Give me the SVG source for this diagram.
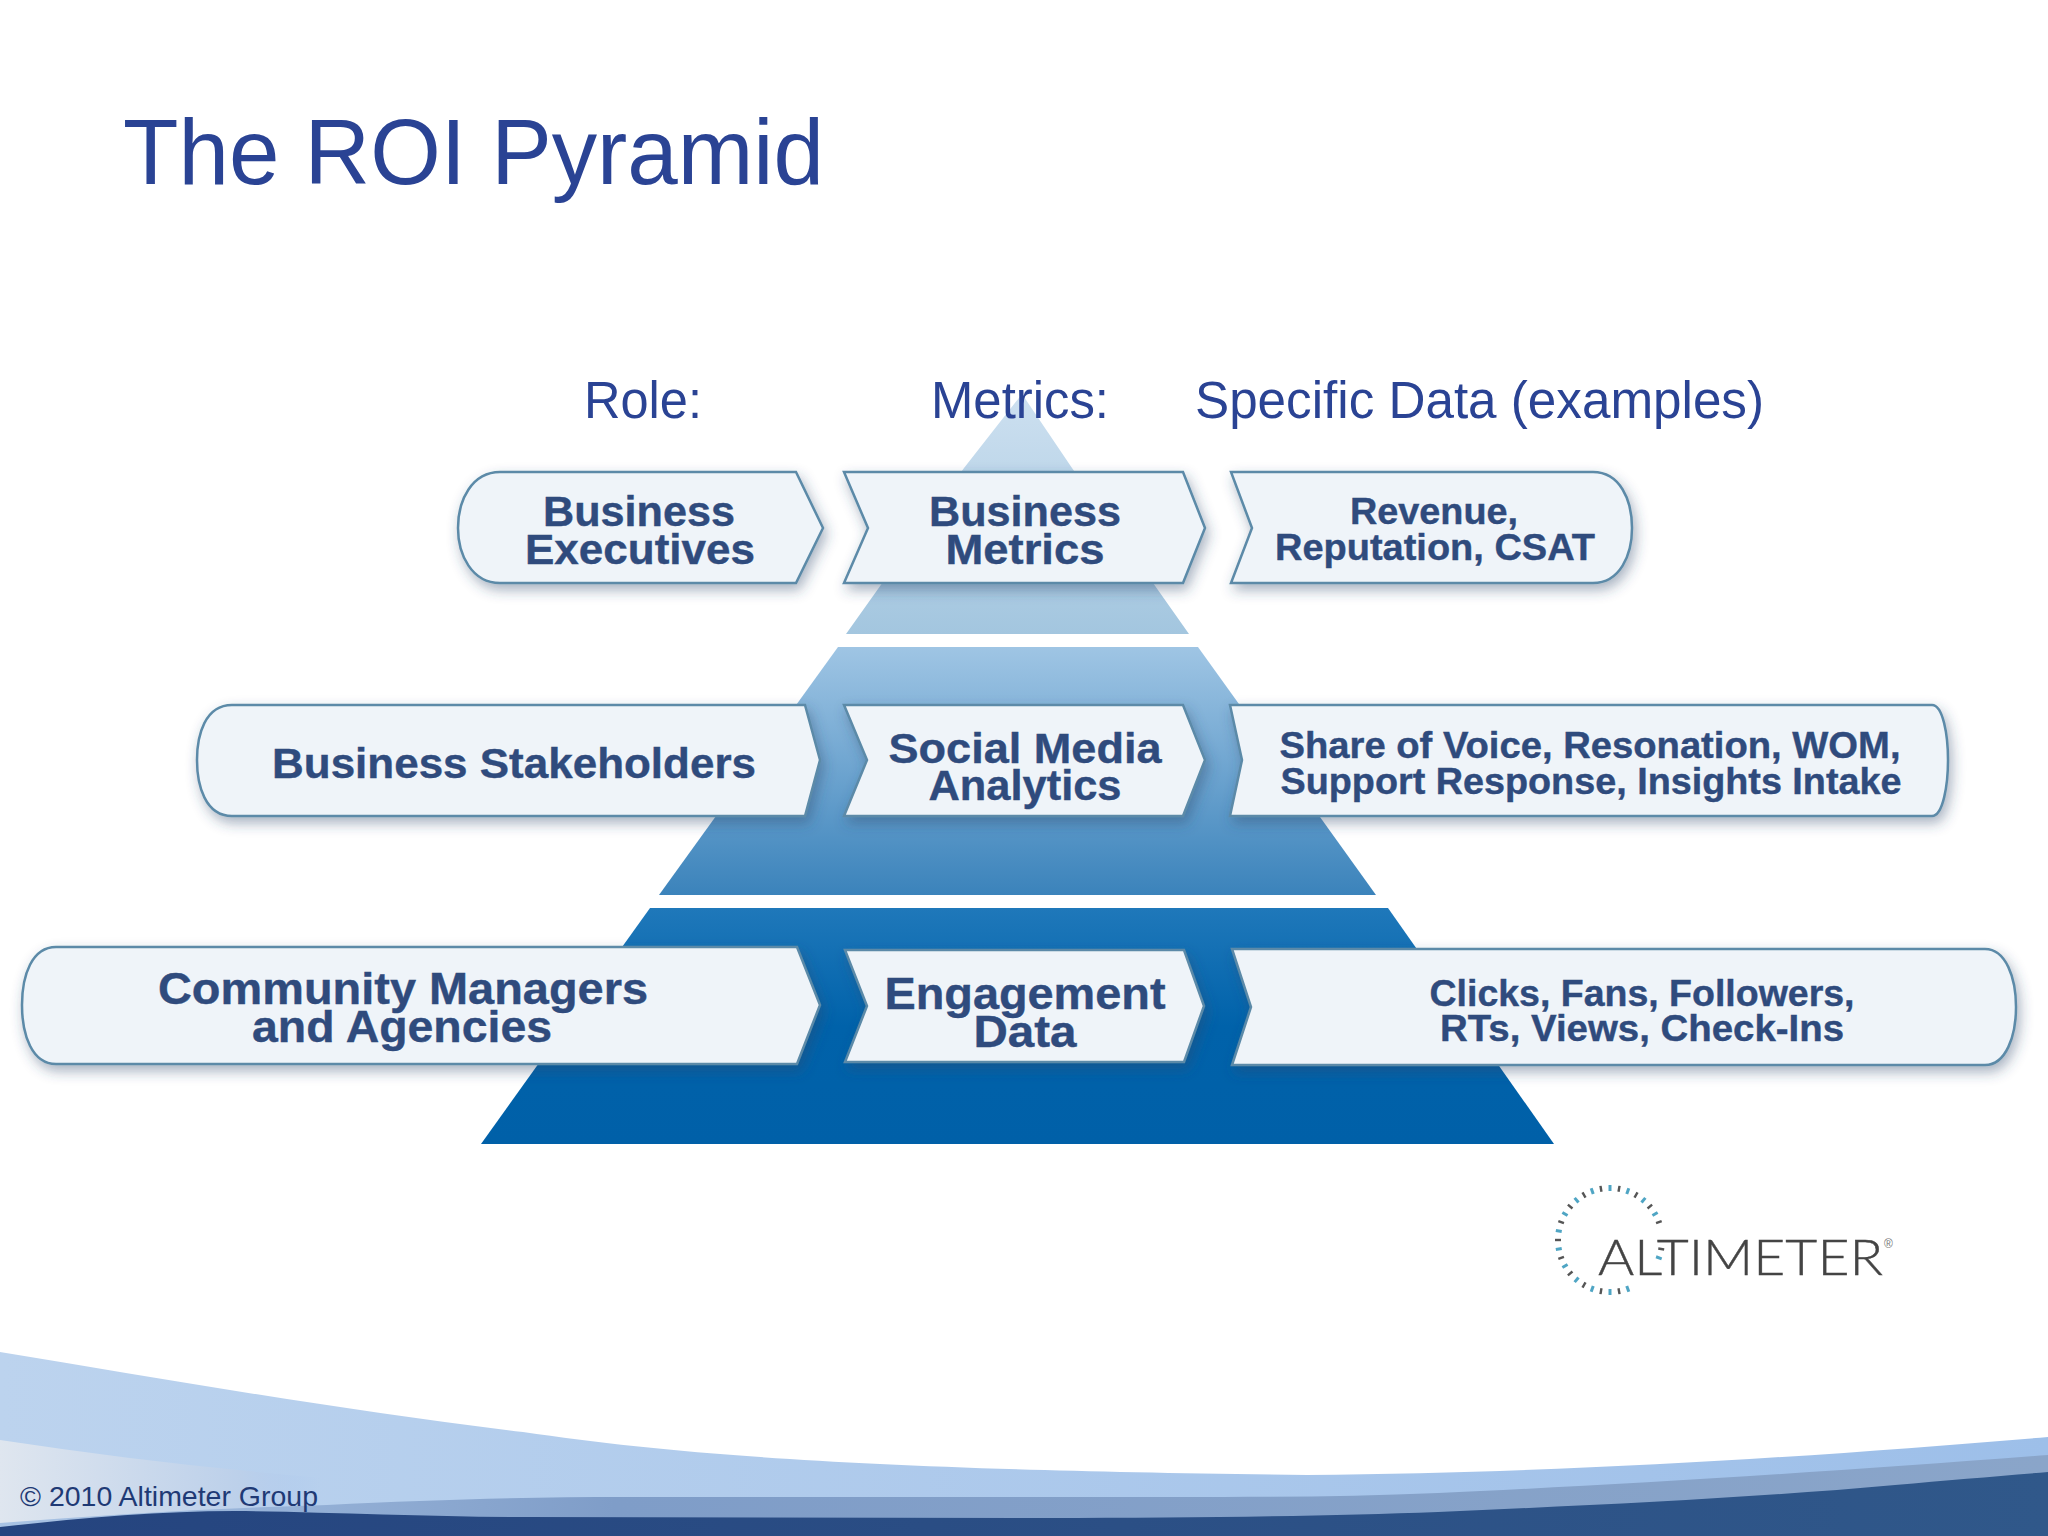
<svg xmlns="http://www.w3.org/2000/svg" xmlns:xlink="http://www.w3.org/1999/xlink" width="2048" height="1536" viewBox="0 0 2048 1536">
<style>
text{font-family:"Liberation Sans",Arial,sans-serif}
.h{fill:#2a4394}
.lab{font-weight:700;fill:#2f4b7d;text-anchor:middle;stroke:#2f4b7d;stroke-width:.4}
.chev{fill:#eff4f9;stroke:#5b8aa8;stroke-width:2.5;filter:url(#sh)}
.tk1{stroke:#4fa5c4;stroke-width:3}
.tk2{stroke:#555;stroke-width:2.4}
</style>
<defs>
<filter id="sh" x="-10%" y="-25%" width="120%" height="160%"><feDropShadow dx="3" dy="6" stdDeviation="6.5" flood-color="#2b4a6a" flood-opacity=".42"/></filter>
<linearGradient id="t1" x1="0" y1="0" x2="0" y2="1"><stop offset="0" stop-color="#cde0f0"/><stop offset="1" stop-color="#a3c6df"/></linearGradient>
<linearGradient id="t2" x1="0" y1="0" x2="0" y2="1"><stop offset="0" stop-color="#9fc5e4"/><stop offset="1" stop-color="#3b83bb"/></linearGradient>
<linearGradient id="t3" x1="0" y1="0" x2="0" y2="1"><stop offset="0" stop-color="#1f78ba"/><stop offset=".5" stop-color="#0062aa"/><stop offset="1" stop-color="#0060a8"/></linearGradient>
<linearGradient id="w1" x1="0" y1="0" x2="1" y2="0"><stop offset="0" stop-color="#bcd3ee"/><stop offset="1" stop-color="#9dbfe9"/></linearGradient>
<linearGradient id="w2" x1="0" y1="0" x2="1" y2="0"><stop offset="0" stop-color="#dfe6ef"/><stop offset=".3" stop-color="#bcd0ea"/><stop offset=".4" stop-color="#adc9ee" stop-opacity="0"/></linearGradient>
<linearGradient id="w3" x1="0" y1="0" x2="1" y2="0"><stop offset="0" stop-color="#a9c3e4"/><stop offset=".3" stop-color="#7f9dc8"/><stop offset="1" stop-color="#8aa5c9"/></linearGradient>
<linearGradient id="w4" x1="0" y1="0" x2="1" y2="0"><stop offset="0" stop-color="#25447f"/><stop offset="1" stop-color="#30588a"/></linearGradient>
</defs>

<g id="swoosh">
<path d="M0 1352C170 1380 340 1410 523 1432C700 1458 900 1470 1307 1475C1600 1472 1830 1455 2048 1437V1536H0Z" fill="url(#w1)"/>
<path d="M0 1440C130 1460 260 1474 392 1483C500 1490 600 1495 800 1497V1536H0Z" fill="url(#w2)"/>
<path d="M0 1523C110 1514 220 1508 327 1505C430 1500 520 1497 627 1497L1176 1497C1260 1497 1350 1497 1438 1493C1600 1486 1830 1472 2048 1455V1536H0Z" fill="url(#w3)"/>
<path d="M0 1527C80 1518 160 1511 235 1511C330 1512 430 1517 523 1517L1046 1518C1200 1518 1330 1516 1438 1512C1600 1505 1750 1498 1895 1485C1950 1480 2000 1476 2048 1472V1536H0Z" fill="url(#w4)"/>
</g>

<g id="pyramid">
<polygon points="1022,394 1072,468 1189,634 846,634 964,468" fill="url(#t1)"/>
<polygon points="838,647 1198,647 1376,895 659,895" fill="url(#t2)"/>
<polygon points="650,908 1388,908 1554,1144 481,1144" fill="url(#t3)"/>
</g>

<text id="title" class="h" x="123" y="184" font-size="92" textLength="701" lengthAdjust="spacingAndGlyphs">The ROI Pyramid</text>
<text id="head-role" class="h" x="584" y="418" font-size="51" textLength="118" lengthAdjust="spacingAndGlyphs">Role:</text>
<text id="head-metrics" class="h" x="931" y="418" font-size="51" textLength="178" lengthAdjust="spacingAndGlyphs">Metrics:</text>
<text id="head-data" class="h" x="1195" y="418" font-size="51" textLength="569" lengthAdjust="spacingAndGlyphs">Specific Data (examples)</text>

<g id="role-executives">
<path class="chev" d="M796 472L823 528L796 583H500C472 583 458 555 458 528C458 500 472 472 500 472Z"/>
<text class="lab" x="639" y="526" font-size="43" textLength="192" lengthAdjust="spacingAndGlyphs">Business</text>
<text class="lab" x="640" y="564" font-size="43" textLength="230" lengthAdjust="spacingAndGlyphs">Executives</text>
</g>
<g id="metric-business">
<path class="chev" d="M844 472H1183L1205 528L1183 583H844L868 528Z"/>
<text class="lab" x="1025" y="526" font-size="43" textLength="192" lengthAdjust="spacingAndGlyphs">Business</text>
<text class="lab" x="1025" y="564" font-size="43" textLength="159" lengthAdjust="spacingAndGlyphs">Metrics</text>
</g>
<g id="data-revenue">
<path class="chev" d="M1231 472H1593C1620 472 1632 500 1632 528C1632 555 1620 583 1593 583H1231L1252 528Z"/>
<text class="lab" x="1434" y="524" font-size="37" textLength="168" lengthAdjust="spacingAndGlyphs">Revenue,</text>
<text class="lab" x="1435" y="560" font-size="37" textLength="320" lengthAdjust="spacingAndGlyphs">Reputation, CSAT</text>
</g>

<g id="role-stakeholders">
<path class="chev" d="M805 705L820 760L805 816H232C205 816 197 785 197 760C197 735 205 705 232 705Z"/>
<text class="lab" x="514" y="778" font-size="43" textLength="484" lengthAdjust="spacingAndGlyphs">Business Stakeholders</text>
</g>
<g id="metric-social">
<path class="chev" d="M844 705H1183L1205 760L1183 816H844L867 760Z"/>
<text class="lab" x="1025" y="763" font-size="43" textLength="273" lengthAdjust="spacingAndGlyphs">Social Media</text>
<text class="lab" x="1025" y="800" font-size="43" textLength="193" lengthAdjust="spacingAndGlyphs">Analytics</text>
</g>
<g id="data-share">
<path class="chev" d="M1230 705H1932C1943 705 1948 735 1948 760C1948 785 1943 816 1932 816H1230L1242 760Z"/>
<text class="lab" x="1590" y="758" font-size="37" textLength="621" lengthAdjust="spacingAndGlyphs">Share of Voice, Resonation, WOM,</text>
<text class="lab" x="1591" y="794" font-size="37" textLength="621" lengthAdjust="spacingAndGlyphs">Support Response, Insights Intake</text>
</g>

<g id="role-community">
<path class="chev" d="M797 947L820 1005L797 1064H56C32 1064 22 1035 22 1005C22 975 32 947 56 947Z"/>
<text class="lab" x="403" y="1004" font-size="45" textLength="490" lengthAdjust="spacingAndGlyphs">Community Managers</text>
<text class="lab" x="402" y="1042" font-size="45" textLength="300" lengthAdjust="spacingAndGlyphs">and Agencies</text>
</g>
<g id="metric-engagement">
<path class="chev" d="M845 950H1184L1204 1006L1184 1062H845L867 1006Z"/>
<text class="lab" x="1025" y="1009" font-size="45" textLength="281" lengthAdjust="spacingAndGlyphs">Engagement</text>
<text class="lab" x="1025" y="1047" font-size="45" textLength="103" lengthAdjust="spacingAndGlyphs">Data</text>
</g>
<g id="data-clicks">
<path class="chev" d="M1232 949H1985C2006 949 2016 978 2016 1007C2016 1036 2006 1065 1985 1065H1232L1251 1007Z"/>
<text class="lab" x="1642" y="1006" font-size="37" textLength="425" lengthAdjust="spacingAndGlyphs">Clicks, Fans, Followers,</text>
<text class="lab" x="1642" y="1041" font-size="37" textLength="404" lengthAdjust="spacingAndGlyphs">RTs, Views, Check-Ins</text>
</g>

<g id="logo">
<defs>
<line id="a" class="tk1" x1="1610" y1="1185" x2="1610" y2="1191"/>
<line id="b" class="tk2" x1="1610" y1="1185" x2="1610" y2="1191"/>
</defs>
<use href="#a"/><use href="#b" transform="rotate(10 1610 1240)"/><use href="#a" transform="rotate(20 1610 1240)"/><use href="#b" transform="rotate(30 1610 1240)"/><use href="#a" transform="rotate(40 1610 1240)"/><use href="#b" transform="rotate(50 1610 1240)"/><use href="#a" transform="rotate(60 1610 1240)"/><use href="#b" transform="rotate(70 1610 1240)"/><use href="#b" transform="rotate(100 1610 1240)"/><use href="#a" transform="rotate(110 1610 1240)"/><use href="#a" transform="rotate(160 1610 1240)"/><use href="#b" transform="rotate(170 1610 1240)"/><use href="#a" transform="rotate(180 1610 1240)"/><use href="#b" transform="rotate(190 1610 1240)"/><use href="#a" transform="rotate(200 1610 1240)"/><use href="#b" transform="rotate(210 1610 1240)"/><use href="#a" transform="rotate(220 1610 1240)"/><use href="#b" transform="rotate(230 1610 1240)"/><use href="#a" transform="rotate(240 1610 1240)"/><use href="#b" transform="rotate(250 1610 1240)"/><use href="#a" transform="rotate(260 1610 1240)"/><use href="#b" transform="rotate(270 1610 1240)"/><use href="#a" transform="rotate(280 1610 1240)"/><use href="#b" transform="rotate(290 1610 1240)"/><use href="#a" transform="rotate(300 1610 1240)"/><use href="#b" transform="rotate(310 1610 1240)"/><use href="#a" transform="rotate(320 1610 1240)"/><use href="#b" transform="rotate(330 1610 1240)"/><use href="#a" transform="rotate(340 1610 1240)"/><use href="#b" transform="rotate(350 1610 1240)"/>
<text x="1598" y="1275" font-size="50" font-weight="300" style="font-family:Lato,'Liberation Sans',sans-serif" fill="#444" stroke="#444" stroke-width=".4" textLength="285" lengthAdjust="spacingAndGlyphs">ALTIMETER</text>
<text x="1884" y="1248" font-size="12" fill="#777">®</text>
</g>

<text id="footer" x="20" y="1506" font-size="28" fill="#1f3a75" textLength="298" lengthAdjust="spacingAndGlyphs">© 2010 Altimeter Group</text>
</svg>
